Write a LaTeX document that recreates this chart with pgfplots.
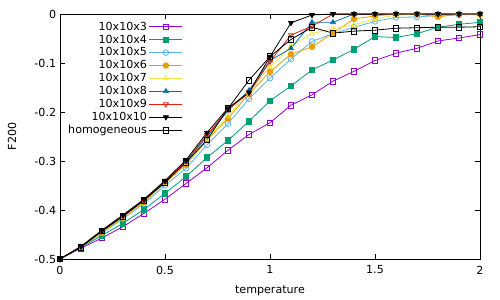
\documentclass[border=0pt]{standalone}
\usepackage{fontspec}
\setmainfont{DejaVu Sans}
\usepackage{pgfplots}
\pgfplotsset{compat=1.18}
\definecolor{cA}{HTML}{9400D3}
\definecolor{cB}{HTML}{009E73}
\definecolor{cC}{HTML}{56B4E9}
\definecolor{cD}{HTML}{E69F00}
\definecolor{cE}{HTML}{F0E442}
\definecolor{cF}{HTML}{0072B2}
\definecolor{cG}{HTML}{E51E10}
\newcommand{\fs}{\fontsize{11.1bp}{13bp}\selectfont}
\begin{document}
\fs
\begin{tikzpicture}
\useasboundingbox (-60bp,-41bp) rectangle (440bp,259bp);
\begin{axis}[
  scale only axis, width=420bp, height=245bp,
  xmin=0, xmax=2, ymin=-0.5, ymax=0,
  xtick={0,0.5,1,1.5,2}, xticklabels={0,0.5,1,1.5,2},
  ytick={-0.5,-0.4,-0.3,-0.2,-0.1,0},
  yticklabels={-0.5,-0.4,-0.3,-0.2,-0.1,0},
  tick align=inside, major tick length=5bp,
  xtick pos=both, ytick pos=both,
  axis line style={line width=0.9bp},
  every tick/.style={black, line width=0.8bp},
  tick label style={font=\fs},
  xticklabel style={yshift=-3bp},
  xlabel={temperature}, ylabel={F200},
  label style={font=\fs},
  xlabel style={at={(axis description cs:0.5,-0.131)}, anchor=center},
  ylabel style={at={(axis description cs:-0.114,0.5)}, anchor=center},
  legend plot pos=right, legend cell align=right,
  legend style={at={(0.3,0.985)}, anchor=north east, draw=none, fill=none,
    font=\fs, row sep=-1bp,
    nodes={inner ysep=2bp}},
  legend image code/.code={\draw[mark repeat=2,mark phase=2] plot coordinates {(0bp,0bp)(16.5bp,0bp)(33bp,0bp)};},
  every axis plot/.append style={line width=0.8bp, mark size=2.8bp, mark options={solid, line width=0.8bp}},
]
\addplot[color=cA, mark=square] coordinates {
(0,-0.5)(0.1,-0.478)(0.2,-0.457)(0.3,-0.434)(0.4,-0.407)(0.5,-0.378)(0.6,-0.346)(0.7,-0.314)(0.8,-0.278)(0.9,-0.246)(1.0,-0.222)(1.1,-0.186)(1.2,-0.165)(1.3,-0.137)(1.4,-0.117)(1.5,-0.095)(1.6,-0.080)(1.7,-0.070)(1.8,-0.055)(1.9,-0.049)(2.0,-0.042)};
\addlegendentry{10x10x3}
\addplot[color=cB, mark=square*] coordinates {
(0,-0.5)(0.1,-0.476)(0.2,-0.452)(0.3,-0.427)(0.4,-0.399)(0.5,-0.366)(0.6,-0.332)(0.7,-0.293)(0.8,-0.258)(0.9,-0.219)(1.0,-0.177)(1.1,-0.147)(1.2,-0.114)(1.3,-0.094)(1.4,-0.072)(1.5,-0.046)(1.6,-0.048)(1.7,-0.040)(1.8,-0.027)(1.9,-0.021)(2.0,-0.017)};
\addlegendentry{10x10x4}
\addplot[color=cC, mark=o] coordinates {
(0,-0.5)(0.1,-0.476)(0.2,-0.447)(0.3,-0.418)(0.4,-0.387)(0.5,-0.350)(0.6,-0.315)(0.7,-0.267)(0.8,-0.224)(0.9,-0.173)(1.0,-0.131)(1.1,-0.092)(1.2,-0.056)(1.3,-0.040)(1.4,-0.027)(1.5,-0.015)(1.6,-0.007)(1.7,-0.006)(1.8,-0.003)(1.9,-0.002)(2.0,0)};
\addlegendentry{10x10x5}
\addplot[color=cD, mark=*] coordinates {
(0,-0.5)(0.1,-0.476)(0.2,-0.446)(0.3,-0.416)(0.4,-0.384)(0.5,-0.345)(0.6,-0.308)(0.7,-0.257)(0.8,-0.213)(0.9,-0.163)(1.0,-0.118)(1.1,-0.082)(1.2,-0.067)(1.3,-0.039)(1.4,-0.010)(1.5,-0.004)(1.6,0)(1.7,0)(1.8,-0.006)(1.9,0)(2.0,-0.002)};
\addlegendentry{10x10x6}
\addplot[color=cE, mark=triangle] coordinates {
(0,-0.5)(0.1,-0.476)(0.2,-0.445)(0.3,-0.415)(0.4,-0.383)(0.5,-0.345)(0.6,-0.306)(0.7,-0.255)(0.8,-0.208)(0.9,-0.158)(1.0,-0.108)(1.1,-0.065)(1.2,-0.040)(1.3,-0.030)(1.4,-0.022)(1.5,-0.010)(1.6,-0.002)(1.7,0)(1.8,0)(1.9,0)(2.0,-0.002)};
\addlegendentry{10x10x7}
\addplot[color=cF, mark=triangle*] coordinates {
(0,-0.5)(0.1,-0.475)(0.2,-0.443)(0.3,-0.413)(0.4,-0.381)(0.5,-0.343)(0.6,-0.302)(0.7,-0.250)(0.8,-0.197)(0.9,-0.156)(1.0,-0.095)(1.1,-0.070)(1.2,-0.017)(1.3,-0.017)(1.4,0)(1.5,0)(1.6,0)(1.7,0)(1.8,0)(1.9,0)(2.0,0)};
\addlegendentry{10x10x8}
\addplot[color=cG, mark=triangle, mark options={rotate=180}] coordinates {
(0,-0.5)(0.1,-0.475)(0.2,-0.443)(0.3,-0.412)(0.4,-0.380)(0.5,-0.342)(0.6,-0.300)(0.7,-0.247)(0.8,-0.195)(0.9,-0.161)(1.0,-0.097)(1.1,-0.043)(1.2,-0.025)(1.3,0)(1.4,0)(1.5,0)(1.6,0)(1.7,0)(1.8,0)(1.9,0)(2.0,0)};
\addlegendentry{10x10x9}
\addplot[color=black, mark=triangle*, mark options={rotate=180}] coordinates {
(0,-0.5)(0.1,-0.474)(0.2,-0.441)(0.3,-0.410)(0.4,-0.378)(0.5,-0.340)(0.6,-0.298)(0.7,-0.242)(0.8,-0.192)(0.9,-0.160)(1.0,-0.087)(1.1,-0.018)(1.2,-0.002)(1.3,0)(1.4,0)(1.5,0)(1.6,0)(1.7,0)(1.8,0)(1.9,0)(2.0,0)};
\addlegendentry{10x10x10}
\addplot[color=black, mark=square] coordinates {
(0,-0.5)(0.1,-0.476)(0.2,-0.443)(0.3,-0.413)(0.4,-0.380)(0.5,-0.344)(0.6,-0.303)(0.7,-0.257)(0.8,-0.193)(0.9,-0.135)(1.0,-0.087)(1.1,-0.052)(1.2,-0.027)(1.3,-0.039)(1.4,-0.035)(1.5,-0.033)(1.6,-0.029)(1.7,-0.028)(1.8,-0.027)(1.9,-0.027)(2.0,-0.026)};
\addlegendentry{homogeneous}
\end{axis}
\end{tikzpicture}
\end{document}
